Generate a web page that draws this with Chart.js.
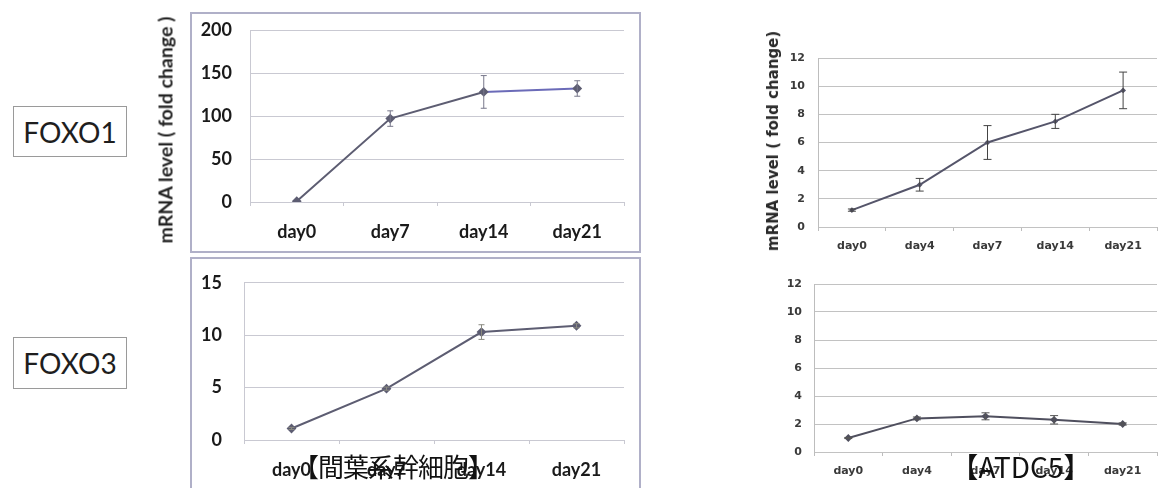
<!DOCTYPE html>
<html>
<head>
<meta charset="utf-8">
<script src="https://cdn.jsdelivr.net/npm/chart.js@4.4.1/dist/chart.umd.min.js"></script>
<style>
  html, body { margin: 0; padding: 0; background: #fff; }
  #page { position: relative; width: 1163px; height: 488px; overflow: hidden; background: #fff; }
  .frame { position: absolute; box-sizing: border-box; border: 2px solid #b0b0c8; }
  .gene { position: absolute; box-sizing: border-box; border: 1px solid #9a9a9a;
          font-family: Lato, "Liberation Sans", sans-serif; font-size: 28px; color: #1e1e1e;
          display: flex; align-items: center; justify-content: center; }
  canvas { position: absolute; }
  .ytitle { position: absolute; white-space: nowrap; transform: translate(-50%, -50%) rotate(-90deg); }
  .note { position: absolute; white-space: nowrap; transform: translate(-50%, -50%);
          font-family: "Noto Sans CJK JP", sans-serif; color: #111; line-height: 1; }
</style>
</head>
<body>
<div id="page">
  <div class="frame" style="left:190px; top:12px; width:451px; height:241px;"></div>
  <div class="frame" style="left:190px; top:257px; width:451px; height:250px;"></div>

  <div class="gene" style="left:13px; top:106px; width:114px; height:51px;">FOXO1</div>
  <div class="gene" style="left:13px; top:337px; width:114px; height:52px;">FOXO3</div>

  <canvas id="msFoxo1Chart" width="480" height="250" style="left:150px; top:0px;"></canvas>
  <canvas id="msFoxo3Chart" width="480" height="238" style="left:150px; top:250px;"></canvas>
  <canvas id="atFoxo1Chart" width="423" height="240" style="left:740px; top:20px;"></canvas>
  <canvas id="atFoxo3Chart" width="423" height="226" style="left:740px; top:262px;"></canvas>

  <div class="ytitle" style="left:165px; top:130px; font-family:Lato, sans-serif; font-weight:bold; font-size:19.5px; color:#222;">mRNA level ( fold change )</div>
  <div class="ytitle" style="left:773px; top:141px; font-family:'DejaVu Sans', sans-serif; font-weight:bold; font-size:15px; color:#2a2a2a;">mRNA level ( fold change)</div>

  <div class="note" style="left:393px; top:466px; font-size:26px; letter-spacing:-1px;">【間葉系幹細胞】</div>
  <div class="note" style="left:1021px; top:466px; font-size:28px;">【ATDC5】</div>
</div>

<script>
// Mesenchymal stem cells: days and mean fold change with error
const msDays = ['day0', 'day7', 'day14', 'day21'];
const msFoxo1 = [1, 97, 128, 132];
const msFoxo1Err = [0, 9, 19, 9];
const msFoxo3 = [1.1, 4.9, 10.3, 10.9];
const msFoxo3Err = [0.1, 0.15, 0.7, 0.2];

// ATDC5 cells
const atDays = ['day0', 'day4', 'day7', 'day14', 'day21'];
const atFoxo1 = [1.2, 3.0, 6.0, 7.5, 9.7];
const atFoxo1Err = [0.08, 0.45, 1.2, 0.5, 1.3];
const atFoxo3 = [1.0, 2.4, 2.55, 2.3, 2.0];
const atFoxo3Err = [0.04, 0.1, 0.25, 0.3, 0.08];

// Y-axis ranges: [min, max, step]
const msFoxo1Range = [0, 200, 50];
const msFoxo3Range = [0, 15, 5];
const atRange = [0, 12, 2];

// Vertical error bars with caps, drawn through the y scale
const errorBars = {
  id: 'errorBars',
  afterDatasetsDraw(chart, args, opts) {
    const ds = chart.data.datasets[0];
    const meta = chart.getDatasetMeta(0);
    const y = chart.scales.y;
    const ctx = chart.ctx;
    ctx.save();
    ctx.strokeStyle = opts.color || '#555';
    ctx.lineWidth = 1;
    meta.data.forEach((pt, i) => {
      const e = ds.errors[i];
      if (!e) return;
      const v = ds.data[i];
      const top = y.getPixelForValue(v + e);
      const bot = y.getPixelForValue(v - e);
      const half = opts.cap || 3;
      ctx.beginPath();
      ctx.moveTo(pt.x, top); ctx.lineTo(pt.x, bot);
      ctx.moveTo(pt.x - half, top); ctx.lineTo(pt.x + half, top);
      ctx.moveTo(pt.x - half, bot); ctx.lineTo(pt.x + half, bot);
      ctx.stroke();
    });
    ctx.restore();
  }
};

function buildChart(id, cfg) {
  const lineColor = cfg.lineColor;
  return new Chart(document.getElementById(id), {
    type: 'line',
    data: {
      labels: cfg.labels,
      datasets: [{
        data: cfg.values,
        errors: cfg.errors,
        borderColor: lineColor,
        backgroundColor: lineColor,
        borderWidth: 2,
        tension: 0,
        pointStyle: 'rectRot',
        pointRadius: cfg.pointRadius,
        pointBackgroundColor: lineColor,
        pointBorderColor: lineColor,
        segment: cfg.segment || {}
      }]
    },
    options: {
      responsive: false,
      animation: false,
      events: [],
      layout: { padding: { top: cfg.padTop, right: cfg.padRight, left: 0, bottom: 0 } },
      plugins: {
        legend: { display: false },
        tooltip: { enabled: false },
        errorBars: { color: cfg.errColor, cap: cfg.cap }
      },
      scales: {
        x: {
          offset: true,
          grid: { display: true, drawOnChartArea: false, offset: true, tickLength: 4, color: cfg.axisColor },
          border: { display: false },
          ticks: { font: cfg.xFont, color: cfg.tickColor, padding: cfg.xPad, maxRotation: 0, autoSkip: false },
          afterFit(s) { s.height = cfg.xHeight; }
        },
        y: {
          min: cfg.range[0], max: cfg.range[1],
          ticks: { stepSize: cfg.range[2], font: cfg.yFont, color: cfg.tickColor, padding: cfg.yPad },
          grid: { color: cfg.gridColor, lineWidth: 1, drawTicks: false },
          border: { display: true, color: cfg.axisColor },
          afterFit(s) { s.width = cfg.yWidth; }
        }
      }
    },
    plugins: [errorBars]
  });
}

const bigX = { family: 'Lato', weight: 'bold', size: 18 };
const bigY = { family: 'Lato', weight: 'bold', size: 18 };
const smallF = { family: 'DejaVu Sans', weight: 'bold', size: 11 };

buildChart('msFoxo1Chart', {
  labels: msDays, values: msFoxo1, errors: msFoxo1Err, range: msFoxo1Range,
  lineColor: '#5d5d72', errColor: '#77778a', cap: 3, pointRadius: 3.5,
  segment: { borderColor: c => (c.p0DataIndex === 2 ? '#6b6bb8' : undefined) },
  padTop: 30, padRight: 6, yWidth: 100, xHeight: 48, yPad: 18, xPad: 15,
  xFont: bigX, yFont: bigY, tickColor: '#1a1a1a', gridColor: '#c9c9d2', axisColor: '#c9c9d2'
});

buildChart('msFoxo3Chart', {
  labels: msDays, values: msFoxo3, errors: msFoxo3Err, range: msFoxo3Range,
  lineColor: '#5d5d72', errColor: '#8a8a80', cap: 3, pointRadius: 3.5,
  padTop: 27, padRight: 2, yWidth: 94, xHeight: 48, yPad: 22, xPad: 15,
  xFont: bigX, yFont: bigY, tickColor: '#1a1a1a', gridColor: '#c9c9d2', axisColor: '#c9c9d2'
});

buildChart('atFoxo1Chart', {
  labels: atDays, values: atFoxo1, errors: atFoxo1Err, range: atRange,
  lineColor: '#55556a', errColor: '#444', cap: 4, pointRadius: 1.5,
  padTop: 38, padRight: 0, yWidth: 78, xHeight: 33, yPad: 13, xPad: 9,
  xFont: smallF, yFont: smallF, tickColor: '#3a3a3a', gridColor: '#c2c2c2', axisColor: '#bdbdbd'
});

buildChart('atFoxo3Chart', {
  labels: atDays, values: atFoxo3, errors: atFoxo3Err, range: atRange,
  lineColor: '#4f4f5e', errColor: '#555', cap: 4, pointRadius: 2.5,
  padTop: 22, padRight: 0, yWidth: 74, xHeight: 36, yPad: 12, xPad: 9,
  xFont: smallF, yFont: smallF, tickColor: '#3a3a3a', gridColor: '#c2c2c2', axisColor: '#bdbdbd'
});
</script>
</body>
</html>
